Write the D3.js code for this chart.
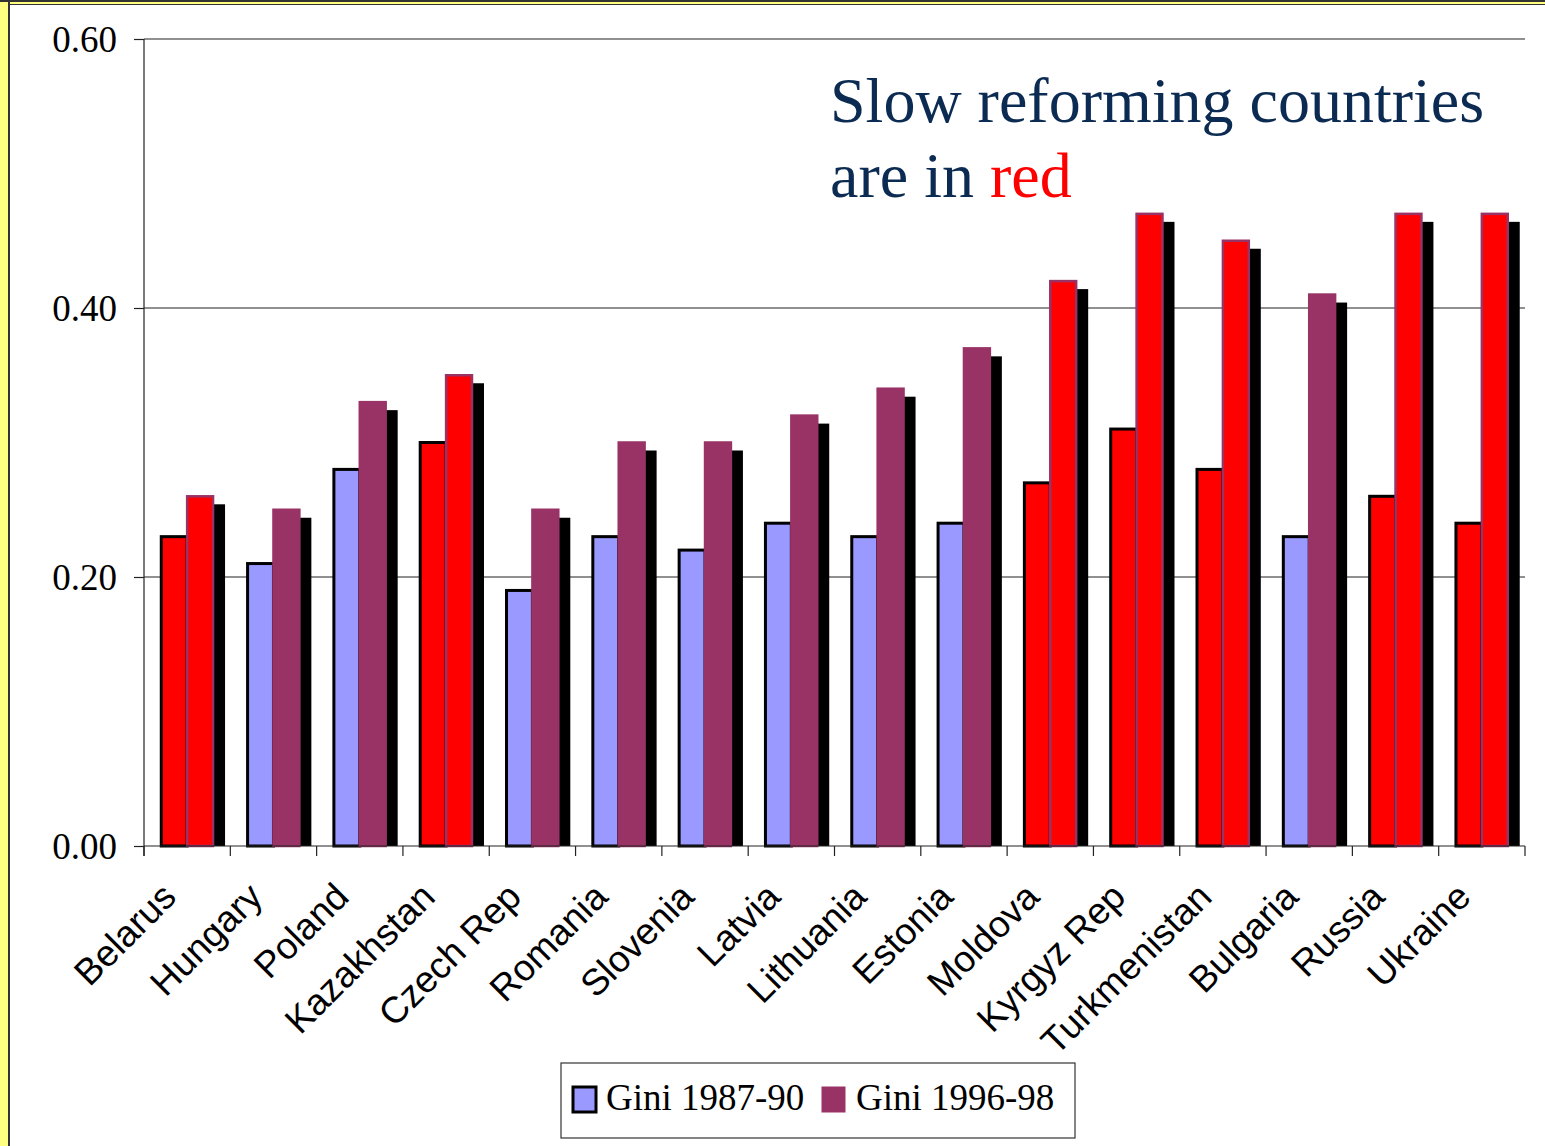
<!DOCTYPE html>
<html>
<head>
<meta charset="utf-8">
<script src="https://cdn.jsdelivr.net/npm/d3@7"></script>
<style>
  html, body { margin: 0; padding: 0; background: #fff; }
  svg { display: block; }
</style>
</head>
<body>
<svg id="chart" width="1545" height="1146"></svg>
<script>
// Gini coefficients, late 1980s vs late 1990s
const countries = ["Belarus", "Hungary", "Poland", "Kazakhstan", "Czech Rep", "Romania",
  "Slovenia", "Latvia", "Lithuania", "Estonia", "Moldova", "Kyrgyz Rep",
  "Turkmenistan", "Bulgaria", "Russia", "Ukraine"];
const gini8790 = [0.23, 0.21, 0.28, 0.30, 0.19, 0.23, 0.22, 0.24, 0.23, 0.24, 0.27, 0.31, 0.28, 0.23, 0.26, 0.24];
const gini9698 = [0.26, 0.25, 0.33, 0.35, 0.25, 0.30, 0.30, 0.32, 0.34, 0.37, 0.42, 0.47, 0.45, 0.41, 0.47, 0.47];
const slowReformers = ["Belarus", "Kazakhstan", "Moldova", "Kyrgyz Rep", "Turkmenistan", "Russia", "Ukraine"];
const seriesNames = ["Gini 1987-90", "Gini 1996-98"];
const yTicks = [0, 0.2, 0.4, 0.6];

const serif = "'Liberation Serif', 'Times New Roman', serif";
const sans = "'Liberation Sans', Arial, sans-serif";
const colorEarly = "#9999FF", colorLate = "#993366", colorSlow = "#FF0000";

const svg = d3.select("#chart");
const W = 1545, H = 1146;
const plot = { left: 144, right: 1525, top: 39, bottom: 846 };

// slide frame: yellow strips on the top and left edges
svg.append("rect").attr("x", 0).attr("y", 0).attr("width", W).attr("height", H).attr("fill", "#fff");
svg.append("rect").attr("x", 0).attr("y", 0).attr("width", W).attr("height", 5).attr("fill", "#333");
svg.append("rect").attr("x", 0).attr("y", 2).attr("width", W).attr("height", 2).attr("fill", "#FFFF80");
svg.append("rect").attr("x", 0).attr("y", 0).attr("width", 10).attr("height", H).attr("fill", "#333");
svg.append("rect").attr("x", 0).attr("y", 2).attr("width", 8).attr("height", H).attr("fill", "#FFFF80");

const x = d3.scaleBand().domain(countries).range([plot.left, plot.right]).paddingInner(0).paddingOuter(0);
const y = d3.scaleLinear().domain([0, 0.6]).range([plot.bottom, plot.top]);

// gridlines
svg.append("g").selectAll("line").data(yTicks.filter(d => d > 0)).join("line")
  .attr("x1", plot.left).attr("x2", plot.right)
  .attr("y1", d => y(d)).attr("y2", d => y(d))
  .attr("stroke", "#222").attr("stroke-width", 1.2);

// y axis
const yAxis = d3.axisLeft(y).tickValues(yTicks).tickFormat(d3.format(".2f")).tickSize(10).tickPadding(17);
const gy = svg.append("g").attr("transform", `translate(${plot.left},0)`).call(yAxis);
gy.select(".domain").remove();
gy.selectAll(".tick line").attr("stroke", "#222").attr("stroke-width", 1.2);
gy.selectAll(".tick text").attr("font-family", serif).attr("font-size", 37).attr("fill", "#000").attr("dy", "0.34em");
svg.append("line").attr("x1", plot.left).attr("x2", plot.left).attr("y1", plot.top).attr("y2", plot.bottom + 10)
  .attr("stroke", "#222").attr("stroke-width", 1.2);

// bars, each with a black drop shadow
const bw = x.bandwidth() * 0.3;
const off = (x.bandwidth() - 2 * bw) / 2;
const shadowDx = 12, shadowDy = 8;
const rows = countries.map((c, i) => ({ c, v: [gini8790[i], gini9698[i]], slow: slowReformers.includes(c) }));

const bars = svg.append("g");
[0, 1].forEach(s => {
  const g = bars.append("g");
  g.selectAll("rect.shadow").data(rows).join("rect").attr("class", "shadow")
    .attr("x", d => x(d.c) + off + s * bw + shadowDx)
    .attr("y", d => y(d.v[s]) + shadowDy)
    .attr("width", bw)
    .attr("height", d => plot.bottom - y(d.v[s]) - shadowDy)
    .attr("fill", "#000");
  g.selectAll("rect.bar").data(rows).join("rect").attr("class", "bar")
    .attr("x", d => x(d.c) + off + s * bw)
    .attr("y", d => y(d.v[s]))
    .attr("width", bw)
    .attr("height", d => plot.bottom - y(d.v[s]))
    .attr("fill", d => d.slow ? colorSlow : (s === 0 ? colorEarly : colorLate))
    .attr("stroke", s === 0 ? "#000" : colorLate)
    .attr("stroke-width", s === 0 ? 3 : 2.5);
});

// x axis
svg.append("line").attr("x1", plot.left).attr("x2", plot.right).attr("y1", plot.bottom).attr("y2", plot.bottom)
  .attr("stroke", "#222").attr("stroke-width", 1.2);
const bounds = countries.map(c => x(c)).concat([plot.right]);
svg.append("g").selectAll("line").data(bounds).join("line")
  .attr("x1", d => d).attr("x2", d => d)
  .attr("y1", plot.bottom).attr("y2", plot.bottom + 10)
  .attr("stroke", "#222").attr("stroke-width", 1.2);

svg.append("g").selectAll("text").data(countries).join("text")
  .attr("transform", d => `translate(${x(d) + x.bandwidth() / 2 - 9},${plot.bottom + 53}) rotate(-45)`)
  .attr("text-anchor", "end")
  .attr("font-family", sans).attr("font-size", 37).attr("fill", "#000")
  .text(d => d);

// annotation
const note = svg.append("text").attr("font-family", serif).attr("font-size", 64).attr("fill", "#0C2B52");
note.append("tspan").attr("x", 830).attr("y", 122).text("Slow reforming countries");
const l2 = note.append("tspan").attr("x", 830).attr("y", 197);
l2.text("are in ");
note.append("tspan").attr("fill", "#FF0000").text("red");

// legend
const lg = svg.append("g");
lg.append("rect").attr("x", 561).attr("y", 1063).attr("width", 514).attr("height", 75)
  .attr("fill", "#fff").attr("stroke", "#333").attr("stroke-width", 1.2);
const legendItems = [
  { name: seriesNames[0], fill: colorEarly, stroke: "#000", sw: 3, x: 573, tx: 606 },
  { name: seriesNames[1], fill: colorLate, stroke: colorLate, sw: 1, x: 822, tx: 856 }
];
legendItems.forEach(it => {
  lg.append("rect").attr("x", it.x).attr("y", 1087).attr("width", 23).attr("height", 25)
    .attr("fill", it.fill).attr("stroke", it.stroke).attr("stroke-width", it.sw);
  lg.append("text").attr("x", it.tx).attr("y", 1110).attr("font-family", serif).attr("font-size", 37)
    .attr("fill", "#000").text(it.name);
});
</script>
</body>
</html>
